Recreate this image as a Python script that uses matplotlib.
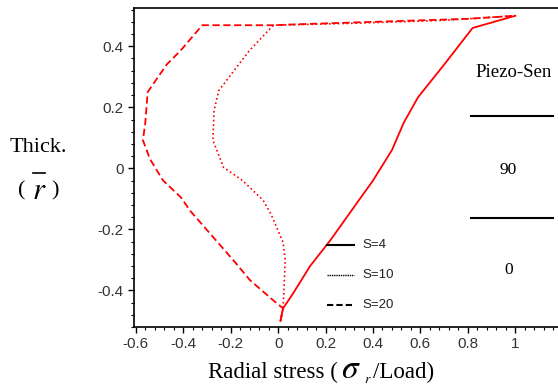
import matplotlib.pyplot as plt
from matplotlib.lines import Line2D
from matplotlib.ticker import MultipleLocator

# Perfil de esfuerzo radial a través del espesor
y_s4 = [-0.50, -0.46, -0.41, -0.32, -0.236, -0.105, -0.04, 0.06, 0.15, 0.233, 0.34, 0.46, 0.50]
x_s4 = [0.01, 0.02, 0.063, 0.135, 0.22, 0.34, 0.40, 0.48, 0.53, 0.59, 0.70, 0.82, 1.00]

y_s10 = [-0.50, -0.459, -0.30, -0.243, -0.15, -0.105, -0.04, 0.003, 0.092, 0.19, 0.255, 0.387, 0.469, 0.475, 0.485, 0.50]
x_s10 = [0.01, 0.021, 0.03, 0.021, -0.03, -0.063, -0.15, -0.23, -0.275, -0.27, -0.25, -0.12, -0.02, 0.30, 0.70, 1.00]

y_s20 = [-0.50, -0.459, -0.433, -0.367, -0.30, -0.14, -0.095, -0.04, 0.03, 0.092, 0.15, 0.25, 0.34, 0.387, 0.469, 0.469, 0.472, 0.48, 0.49, 0.50]
x_s20 = [0.01, 0.021, -0.02, -0.118, -0.19, -0.37, -0.41, -0.485, -0.54, -0.57, -0.56, -0.55, -0.47, -0.41, -0.32, -0.02, 0.08, 0.40, 0.80, 1.00]

etiquetas = ['S=4', 'S=10', 'S=20']
estilos = ['-', ':', '--']

plt.rcParams.update({'font.family': 'Liberation Sans', 'mathtext.fontset': 'stix'})

fig = plt.figure(figsize=(5.58, 3.87), dpi=100)
ax = fig.add_axes([0.240, 0.155, 0.760, 0.824])

ax.plot(x_s4, y_s4, color='red', ls='-', lw=1.3)
ax.plot(x_s10, y_s10, color='red', ls=':', lw=1.2)
ax.plot(x_s20, y_s20, color='red', ls='--', lw=1.3, dashes=(4, 2))

ax.set_xlim(-0.608, 1.18)
ax.set_ylim(-0.52, 0.525)
ax.xaxis.set_minor_locator(MultipleLocator(0.04))
ax.yaxis.set_minor_locator(MultipleLocator(0.04))
ax.set_xticks([-0.6, -0.4, -0.2, 0, 0.2, 0.4, 0.6, 0.8, 1])
ax.set_xticklabels(['-0.6', '-0.4', '-0.2', '0', '0.2', '0.4', '0.6', '0.8', '1'])
ax.set_yticks([-0.4, -0.2, 0, 0.2, 0.4])
ax.set_yticklabels(['-0.4', '-0.2', '0', '0.2', '0.4'])
ax.tick_params(which='major', direction='out', length=4, width=1, labelsize=11, labelcolor='#333333')
ax.tick_params(which='minor', direction='out', length=2, width=0.8)
ax.spines['right'].set_visible(False)
for s in ['top', 'left', 'bottom']:
    ax.spines[s].set_linewidth(1.2)

# leyenda manual en negro
ly = [-0.25, -0.35, -0.447]
for lab, est, yy in zip(etiquetas, estilos, ly):
    ax.plot([0.206, 0.32], [yy, yy], color='black', ls=est, lw=1.5 if est != ':' else 1.0,
            dashes=(3, 1.5) if est == '--' else (None, None) if est == '-' else (1, 0.6))
    ax.text(0.355, yy, lab, fontsize=9.5, va='center', ha='left', color='#222222')

# anotaciones de la derecha
serif = 'Liberation Serif'
ax.text(0.995, 0.315, 'Piezo-Sen', fontsize=13.5, ha='center', va='center', family=serif)
ax.plot([0.814, 1.16], [0.17, 0.17], color='black', lw=1.5)
ax.text(0.97, -0.007, '90', fontsize=12.5, ha='center', va='center', family=serif)
ax.plot([0.814, 1.16], [-0.164, -0.164], color='black', lw=1.5)
ax.text(0.97, -0.334, '0', fontsize=12.5, ha='center', va='center', family=serif)

# etiqueta del eje x por partes (sigma grande)
fig.text(208 / 558, 1 - 378 / 387, 'Radial stress (', fontsize=16.5, ha='left', va='baseline', family=serif)
fig.text(341 / 558, 1 - 378 / 387, r'$\sigma$', fontsize=24, ha='left', va='baseline')
fig.text(364 / 558, 1 - 383 / 387, r'$r$', fontsize=10, ha='left', va='baseline', fontweight='bold')
fig.text(373 / 558, 1 - 378 / 387, '/Load)', fontsize=16.5, ha='left', va='baseline', family=serif)

# etiqueta del eje y: Thick. ( r con barra )
fig.text(38 / 558, 1 - 147 / 387, 'Thick.', fontsize=16, ha='center', va='center', family=serif)
fig.text(22 / 558, 1 - 191 / 387, '(', fontsize=16, ha='center', va='center', family=serif)
fig.text(55 / 558, 1 - 191 / 387, ')', fontsize=16, ha='center', va='center', family=serif)
fig.text(39 / 558, 1 - 199 / 387, r'$r$', fontsize=22, ha='center', va='baseline')
fig.add_artist(Line2D([33 / 558, 45 / 558], [1 - 173 / 387, 1 - 173 / 387],
                      transform=fig.transFigure, color='black', lw=1.2))

fig.savefig('out.png', dpi=100)
